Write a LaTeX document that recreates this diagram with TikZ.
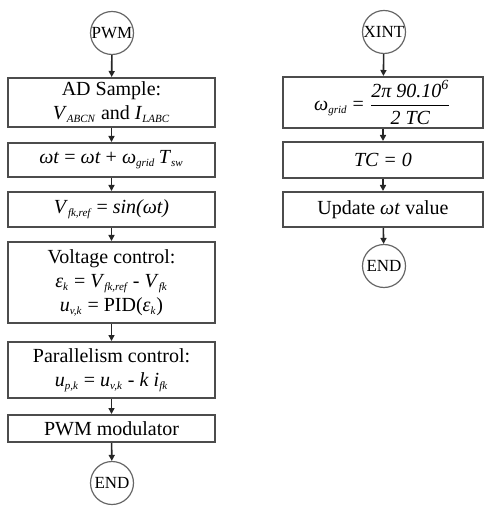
\documentclass[tikz,border=0pt]{standalone}
\usepackage{amsmath}
\usepackage{fontspec}
\setmainfont{Liberation Serif}
\usepackage{tikz}
\usetikzlibrary{arrows.meta,positioning}
\newcommand{\isub}[2]{\textit{#1}\textsubscript{\fontsize{5.5}{6}\selectfont\itshape #2}}
\tikzset{
  procbox/.style  = {rectangle, draw=black!70, line width=1pt, fill=white,
                     align=center, inner sep=1pt, font=\fontsize{10}{12}\selectfont},
  termnode/.style = {circle, draw=black!60, line width=0.6pt, inner sep=0pt,
                     minimum size=21.5pt, font=\fontsize{8.5}{10}\selectfont},
  flow/.style     = {-{Triangle[length=3pt,width=3pt]}, line width=0.8pt, black!85},
}
\begin{document}
\begin{tikzpicture}[x=0.5pt,y=-0.5pt]
  \useasboundingbox (0,0) rectangle (485,507);
  % PWM interrupt
  \node[termnode] (pwm) at (112,33) {PWM};
  \node[procbox, minimum width=103.5pt, minimum height=24.5pt] (adc) at (111.5,102.5)
       {AD Sample:\\\isub{V}{ABCN} and \isub{I}{LABC}};
  \node[procbox, minimum width=103.5pt, minimum height=17pt] (wt) at (111.5,160)
       {\textit{ωt} = \textit{ωt} + \isub{ω}{grid}\,\isub{T}{sw}};
  \node[procbox, minimum width=103.5pt, minimum height=17.5pt] (vref) at (111.5,209.5)
       {\isub{V}{fk,ref} = \textit{sin(ωt)}};
  \node[procbox, minimum width=103.5pt, minimum height=40.5pt] (vctl) at (111.5,282.5)
       {Voltage control:\\\isub{ε}{k} = \isub{V}{fk,ref} - \isub{V}{fk}\\\isub{u}{v,k} = PID(\isub{ε}{k})};
  \node[procbox, minimum width=103.5pt, minimum height=28pt] (pctl) at (111.5,370)
       {Parallelism control:\\\isub{u}{p,k} = \isub{u}{v,k} - \textit{k} \isub{i}{fk}};
  \node[procbox, minimum width=103.5pt, minimum height=13.5pt] (mod) at (111.5,428.5)
       {PWM modulator};
  \node[termnode] (end1) at (112,483) {END};
  % XINT interrupt
  \node[termnode] (xint) at (384,32) {XINT};
  \node[procbox, minimum width=100pt, minimum height=25.5pt] (wg) at (383,102.5)
       {\isub{ω}{grid} = $\dfrac{\text{\textit{2π 90.10\textsuperscript{6}}}}{\text{\textit{2 TC}}}$};
  \node[procbox, minimum width=100pt, minimum height=18pt] (tc) at (383,160)
       {\textit{TC = 0}};
  \node[procbox, minimum width=100pt, minimum height=17.5pt] (upd) at (383,209.5)
       {Update \textit{ωt} value};
  \node[termnode] (end2) at (384,266) {END};
  \draw[flow] (pwm) to (adc);
  \draw[flow] (adc) to (wt);
  \draw[flow] (wt) to (vref);
  \draw[flow] (vref) to (vctl);
  \draw[flow] (vctl) to (pctl);
  \draw[flow] (pctl) to (mod);
  \draw[flow] (mod) to (end1);
  \draw[flow] (xint) to (wg);
  \draw[flow] (wg) to (tc);
  \draw[flow] (tc) to (upd);
  \draw[flow] (upd) to (end2);
\end{tikzpicture}
\end{document}
